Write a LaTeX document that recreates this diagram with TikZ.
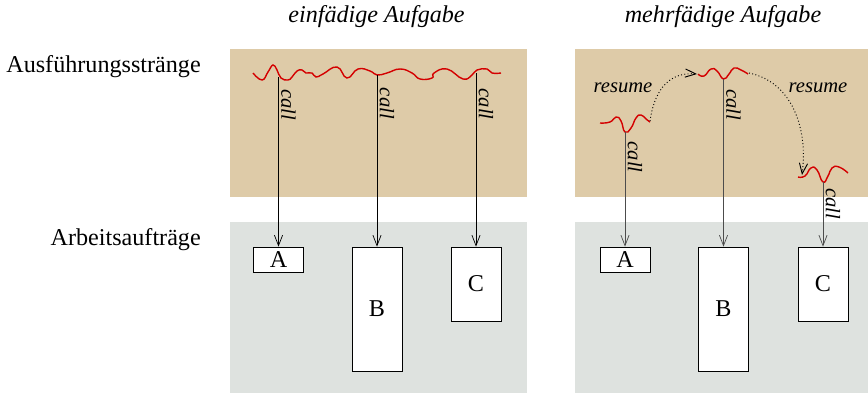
\documentclass[tikz,border=0pt]{standalone}
\usepackage{fontspec}
\setmainfont{Liberation Serif}
\usepackage{xcolor}
\usetikzlibrary{arrows.meta,positioning}
\definecolor{threadtan}{RGB}{222,203,168}
\definecolor{jobgray}{RGB}{222,226,223}
\definecolor{threadred}{RGB}{212,0,0}

\begin{document}
\begin{tikzpicture}[
            x = 0.03cm, y = -0.03cm, % one unit per pixel
            > = {Straight Barb[length=9pt,width=7pt]}, % arrow head style
            auto,
            font = \fontsize{20.6}{24}\selectfont,
            line width = 0.6pt % line style
        ]

        \tikzstyle{job}=[
            draw = black,
            fill = white,
            minimum width = 1.5cm,
            inner sep = 0pt
        ]
        \tikzstyle{thread}=[draw = threadred, line width = 1.2pt]
        \tikzstyle{lbl}=[font = \fontsize{17.6}{20}\selectfont\itshape, inner sep = 2pt]

        \useasboundingbox (0,0) rectangle (868,393);
        % Backgrounds
        \fill[threadtan] (230,49) rectangle (527,197);
        \fill[jobgray] (230,222) rectangle (527,393);
        \fill[threadtan] (575,49) rectangle (868,197);
        \fill[jobgray] (575,222) rectangle (868,393);

        % Titles
        \node (t1) [at={(376.5,17)}] {\itshape einfädige Aufgabe};
        \node (t2) [at={(723,17)}] {\itshape mehrfädige Aufgabe};
        \node[anchor = east] (exec) [at={(205,67)}] {Ausführungsstränge};
        \node[anchor = east] (work) [at={(205,240)}] {Arbeitsaufträge};

        % Jobs
        \node[job, minimum height = 0.75cm] (a1) [at={(278.5,259.5)}] {A};
        \node[job, minimum height = 3.72cm] (b1) [at={(377,309)}] {B};
        \node[job, minimum height = 2.22cm] (c1) [at={(476,284)}] {C};
        \node[job, minimum height = 0.75cm] (a2) [at={(625,259.5)}] {A};
        \node[job, minimum height = 3.72cm] (b2) [at={(723.5,309)}] {B};
        \node[job, minimum height = 2.22cm] (c2) [at={(823,284)}] {C};

        % Threads
        \draw[thread] plot[smooth, tension = 0.8] coordinates {
            (253,73) (262,80) (268,72) (273,65) (277,70) (281,78) (288,80)
            (292,77) (297,71) (302,70) (306,73) (312,73) (316,77) (323,74)
            (337,67) (347,78) (358,69) (370,71) (377,75) (387,73) (400,69)
            (412,73) (420,79) (432,78) (434,73) (447,69) (463,79) (472,75)
            (477,70) (487,69) (492,73) (501,73)};
        \draw[thread] plot[smooth, tension = 0.9] coordinates {
            (600,123) (610,122) (616,117) (621,121) (625,132) (631,128)
            (636,118) (641,115) (646,119) (650,122)};
        \draw[thread] plot[smooth, tension = 0.9] coordinates {
            (698,74) (704,76) (711,69) (717,71) (723.5,79) (729,74)
            (734,68) (741,70) (748,74)};
        \draw[thread] plot[smooth, tension = 0.9] coordinates {
            (798,177) (805,176) (811,168) (817,170) (823,182) (828,176)
            (832,168) (839,167) (848,173)};

        \coordinate (s1) at (278.5,77);
        \coordinate (s2) at (377,75);
        \coordinate (s3) at (476,73);
        \coordinate (u1) at (625,132);
        \coordinate (u2) at (723.5,79);
        \coordinate (u3) at (823,182);
        \coordinate (p1) at (650,121);
        \coordinate (q1) at (697,74);
        \coordinate (p2) at (749,73);
        \coordinate (q2) at (802,175);

        % Calls
        \path[->] (s1) edge node[lbl, sloped, pos = 0.165] {call} (a1);
        \path[->] (s2) edge node[lbl, sloped, pos = 0.165] {call} (b1);
        \path[->] (s3) edge node[lbl, sloped, pos = 0.18] {call} (c1);
        \path[->] (u1) edge[black!70] node[lbl, black, sloped, pos = 0.22] {call} (a2);
        \path[->] (u2) edge[black!70] node[lbl, black, sloped, pos = 0.155] {call} (b2);
        \path[->] (u3) edge[black!70] node[lbl, black, sloped, pos = 0.34] {call} (c2);

        % Resume
        \draw[->, dotted, thick] (p1) .. controls (655,86) and (672,72) .. (q1);
        \draw[->, dotted, thick] (p2) .. controls (792,82) and (808,128) .. (q2);
        \node[lbl] (r1) [at={(623,88)}] {resume};
        \node[lbl] (r2) [at={(818,88)}] {resume};

\end{tikzpicture}
\end{document}
